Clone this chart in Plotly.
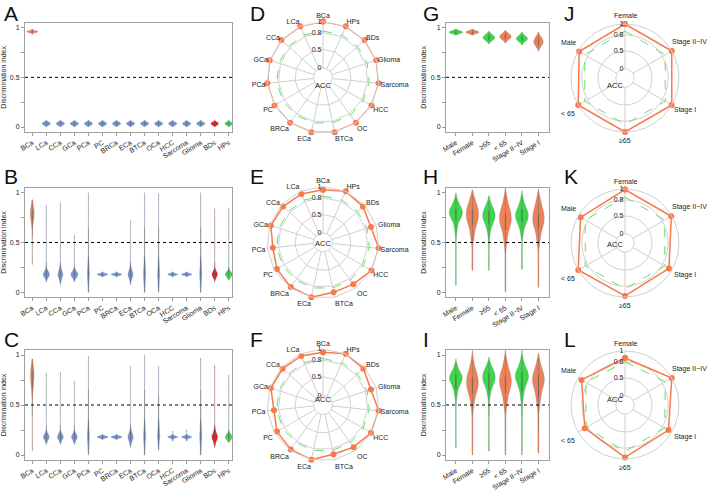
import math
import numpy as np
import plotly.graph_objects as go

# ======================= DATA =======================
CANCERS = ['BCa', 'LCa', 'CCa', 'GCa', 'PCa', 'PC', 'BRCa', 'ECa', 'BTCa',
           'OCa', 'HCC', 'Sarcoma', 'Glioma', 'BDs', 'HPs']
RADAR_CANCERS = ['BCa', 'HPs', 'BDs', 'Glioma', 'Sarcoma', 'HCC', 'OC', 'BTCa',
                 'ECa', 'BRCa', 'PC', 'PCa', 'GCa', 'CCa', 'LCa']
GROUPS = ['Male', 'Female', '≥65', '< 65', 'Stage II−IV', 'Stage I']
RADAR_GROUPS = ['Female', 'Stage II−IV', 'Stage I', '≥65', '< 65', 'Male']

Y_TICKS = [0, 0.25, 0.5, 0.75, 1]
Y_TICKTEXT = ['0', '', '0.5', '', '1']
R_TICKTEXT = ['0', '0.5', '0.8', '1']
CUTOFF = 0.5

# sparse tail grid (values observed along the thin violin tails)
TAIL_GRID = [0.00, 0.05, 0.10, 0.15, 0.20, 0.25, 0.30, 0.35, 0.40, 0.45, 0.50,
             0.55, 0.60, 0.65, 0.70, 0.75, 0.80, 0.85, 0.90, 0.95, 1.00]

# ---- violin cores: (values, counts) ----
A_top = ([0.945, 0.955, 0.96, 0.965, 0.975], [1, 3, 4, 3, 1])
A_bottom = ([0.015, 0.025, 0.035, 0.045, 0.055], [2, 4, 5, 4, 2])
diamond = ([0.12, 0.14, 0.16, 0.18, 0.20, 0.22, 0.24], [2, 5, 12, 18, 12, 5, 2])
diamond_narrow = ([0.14, 0.16, 0.18, 0.20, 0.22], [3, 10, 16, 10, 3])
diamond_long = ([0.10, 0.13, 0.16, 0.18, 0.20, 0.23, 0.26], [3, 6, 11, 14, 11, 6, 3])
lens = ([0.165, 0.175, 0.18, 0.185, 0.195], [2, 6, 8, 6, 2])
spread = ([0.03, 0.07, 0.11, 0.15, 0.18, 0.21, 0.25, 0.29, 0.33], [2, 3, 4, 5, 5, 5, 4, 3, 2])
spread_high = ([0.08, 0.12, 0.16, 0.19, 0.22, 0.26, 0.30, 0.34], [2, 3, 5, 6, 5, 4, 3, 2])
bca_B = ([0.65, 0.70, 0.74, 0.77, 0.80, 0.83, 0.86, 0.89], [2, 4, 6, 8, 8, 6, 4, 2])
bca_C = ([0.62, 0.67, 0.72, 0.76, 0.80, 0.84, 0.88, 0.92], [2, 4, 6, 7, 8, 7, 5, 2])

A_core = [A_top] + [A_bottom] * 14
A_tail_lo = [None] * 15
A_tail_hi = [None] * 15

B_core = [bca_B, diamond, diamond_long, diamond, spread, lens, lens, diamond_long,
          spread, spread, lens, lens, spread, diamond, diamond_narrow]
B_tail_lo = [0.28, 0.15, 0.15, 0.15, 0.00, None, None, 0.15, 0.00, 0.01, None, None, 0.00, 0.15, 0.15]
B_tail_hi = [0.92, 0.87, 0.90, 0.57, 1.00, None, None, 0.72, 1.00, 0.99, None, None, 1.00, 0.84, 0.85]

C_core = [bca_C, diamond, diamond, diamond, spread, lens, lens, diamond_long,
          spread, spread_high, lens, lens, spread, diamond_long, diamond_narrow]
C_tail_lo = [0.04, 0.15, 0.15, 0.15, 0.01, None, None, 0.15, 0.00, 0.05, 0.14, 0.14, 0.00, 0.15, 0.15]
C_tail_hi = [0.96, 0.82, 0.83, 0.74, 0.99, None, None, 0.89, 1.00, 0.89, 0.24, 0.25, 0.97, 0.90, 0.80]

G_core = [([0.935, 0.945, 0.955, 0.965, 0.975], [2, 5, 7, 5, 2]),
          ([0.935, 0.945, 0.955, 0.965, 0.975], [2, 5, 7, 5, 2]),
          ([0.86, 0.88, 0.90, 0.92, 0.94], [2, 5, 7, 5, 2]),
          ([0.87, 0.89, 0.91, 0.93, 0.95], [2, 5, 7, 5, 2]),
          ([0.85, 0.87, 0.89, 0.91, 0.93], [2, 5, 7, 5, 2]),
          ([0.80, 0.83, 0.86, 0.89, 0.92], [2, 5, 7, 5, 2])]
G_tail_lo = [None] * 6
G_tail_hi = [None] * 6

H_core = [([0.62, 0.68, 0.73, 0.77, 0.80, 0.83, 0.87, 0.91, 0.95], [2, 4, 8, 12, 14, 12, 8, 4, 1]),
          ([0.56, 0.62, 0.68, 0.73, 0.78, 0.83, 0.88, 0.93, 0.98], [3, 5, 8, 11, 12, 11, 8, 5, 2]),
          ([0.60, 0.66, 0.71, 0.75, 0.79, 0.83, 0.87, 0.92], [3, 6, 10, 13, 13, 10, 6, 2]),
          ([0.52, 0.58, 0.64, 0.69, 0.74, 0.79, 0.84, 0.90, 0.96, 1.00], [3, 5, 8, 11, 12, 11, 9, 6, 3, 1]),
          ([0.60, 0.66, 0.71, 0.75, 0.79, 0.83, 0.88, 0.93, 0.97], [3, 6, 10, 13, 13, 10, 6, 3, 1]),
          ([0.52, 0.58, 0.64, 0.69, 0.74, 0.79, 0.84, 0.90, 0.95, 0.99], [3, 5, 8, 11, 12, 11, 9, 6, 3, 1])]
H_tail_lo = [0.07, 0.22, 0.22, 0.00, 0.23, 0.05]
H_tail_hi = [0.62, 0.56, 0.60, 0.52, 0.60, 0.52]

I_core = [([0.60, 0.65, 0.70, 0.74, 0.77, 0.80, 0.84, 0.88, 0.92], [3, 5, 9, 12, 13, 12, 8, 4, 1]),
          ([0.50, 0.56, 0.62, 0.67, 0.72, 0.77, 0.82, 0.88, 0.94, 1.00], [3, 5, 8, 11, 12, 11, 9, 6, 3, 1]),
          ([0.60, 0.65, 0.70, 0.74, 0.78, 0.82, 0.86, 0.90, 0.94], [3, 5, 9, 12, 13, 12, 8, 4, 1]),
          ([0.50, 0.56, 0.62, 0.68, 0.73, 0.78, 0.83, 0.89, 0.95, 1.00], [3, 5, 8, 11, 12, 11, 9, 6, 3, 1]),
          ([0.58, 0.64, 0.70, 0.75, 0.79, 0.83, 0.88, 0.94, 1.00], [3, 5, 9, 12, 13, 12, 8, 4, 1]),
          ([0.52, 0.58, 0.64, 0.70, 0.75, 0.80, 0.85, 0.91, 0.97], [3, 5, 8, 11, 12, 11, 8, 5, 2])]
I_tail_lo = [0.07, 0.00, 0.04, 0.00, 0.00, 0.02]
I_tail_hi = [0.60, 0.50, 0.60, 0.50, 0.58, 0.52]

# ---- radar (ACC) values ----
D_acc = [1.00, 1.00, 1.00, 1.00, 1.00, 1.00, 1.00, 1.00, 1.00, 1.00, 1.00, 1.00, 1.00, 1.00, 1.00]
E_acc = [0.94, 1.00, 0.96, 0.90, 1.00, 1.00, 0.92, 0.91, 1.00, 0.98, 0.95, 0.90, 0.98, 0.96, 0.95]
F_acc = [0.94, 1.00, 0.97, 0.90, 1.00, 0.99, 0.93, 0.90, 1.00, 0.98, 0.95, 0.88, 0.98, 0.97, 0.96]
D_ref = [0.83] * 15
E_ref = [0.83] * 15
F_ref = [0.83] * 15
J_acc = [1.00, 1.00, 1.00, 1.00, 1.00, 0.98]
K_acc = [0.99, 0.99, 0.94, 0.98, 1.00, 0.95]
L_acc = [0.87, 1.00, 0.93, 0.97, 0.86, 0.93]
J_ref = [0.87, 0.86, 0.86, 0.86, 0.86, 0.86]
K_ref = [0.85, 0.85, 0.85, 0.85, 0.85, 0.85]
L_ref = [0.80, 0.86, 0.85, 0.86, 0.83, 0.84]

# ======================= STYLE =======================
W, H = 709, 490
FONT = 'Liberation Sans, Arial, sans-serif'
ORANGE, BLUE, RED, GREEN = '#EE8158', '#7295DA', '#F01C1C', '#3ED64C'
R_ORANGE, R_GREEN, GRID = '#F77A4A', '#66E066', '#D0D0D0'
CANCER_COLORS = [ORANGE] + [BLUE] * 12 + [RED, GREEN]
GROUP_COLORS = [GREEN, ORANGE, GREEN, ORANGE, GREEN, ORANGE]
SMALL = 7
HOLE = 0.17

A_width = [0.80] + [0.60] * 12 + [0.55, 0.55]
B_width = [0.28, 0.45, 0.36, 0.50, 0.14, 0.76, 0.76, 0.36, 0.16, 0.14, 0.70, 0.74, 0.14, 0.40, 0.50]
C_width = [0.26, 0.42, 0.42, 0.42, 0.14, 0.76, 0.76, 0.38, 0.14, 0.16, 0.72, 0.74, 0.14, 0.42, 0.50]
G_width = [0.82, 0.78, 0.72, 0.70, 0.68, 0.58]
H_width = [0.80, 0.75, 0.75, 0.72, 0.78, 0.70]
I_width = [0.78, 0.72, 0.76, 0.72, 0.80, 0.72]

# label placement around the hexagonal radars: (dx, dy, xanchor) in px from vertex
HEX_LABEL_POS = [(0, -8, 'center'), (-1, -9, 'left'), (1, 5, 'left'),
                 (0, 8, 'center'), (-2, 8, 'right'), (-1, -8, 'right')]


def xdom(p0, p1):
    return [p0 / W, p1 / W]


def ydom(p0, p1):
    return [1 - p1 / H, 1 - p0 / H]


def sfx(n):
    return '' if n == 1 else str(n)


fig = go.Figure()


def add_violins(n, cats, cores, los, his, colors, widths):
    for i, c in enumerate(cats):
        vals, cnts = cores[i]
        bw = max(0.8 * float(np.max(np.diff(vals))), 0.006)
        s = list(np.repeat(vals, cnts))
        lo, hi = los[i], his[i]
        if lo is None:
            span = [min(vals) - 1.5 * bw, max(vals) + 1.5 * bw]
        else:
            s += [lo] + [t for t in TAIL_GRID if lo < t < hi] + [hi]
            span = [min(min(vals) - bw, lo), max(max(vals) + bw, hi)]
        fig.add_trace(go.Violin(
            x=[c] * len(s), y=s, xaxis='x' + sfx(n), yaxis='y' + sfx(n),
            width=widths[i], bandwidth=bw, spanmode='manual', span=span,
            scalemode='width', fillcolor=colors[i],
            line=dict(color='rgba(120,120,120,0.5)', width=0.5),
            points=False, box=dict(visible=True, width=0.05, fillcolor='#666',
                                   line=dict(color='#666', width=0.4)),
            meanline=dict(visible=False), showlegend=False, hoverinfo='skip'))


def violin_axes(n, px, py, cats, xrange):
    s = sfx(n)
    fig.layout['xaxis' + s] = dict(
        domain=xdom(*px), range=xrange, type='category', categoryorder='array',
        categoryarray=cats, tickangle=-32, tickfont=dict(size=SMALL, color='#222'),
        ticks='outside', ticklen=3, tickcolor='#999', showline=True, mirror=True,
        linecolor='#A0A0A0', linewidth=1, showgrid=False, zeroline=False,
        anchor='y' + s, fixedrange=True, automargin=False)
    fig.layout['yaxis' + s] = dict(
        domain=ydom(*py), range=[-0.05, 1.05], tickvals=Y_TICKS, ticktext=Y_TICKTEXT,
        ticks='outside', ticklen=3, tickcolor='#999', tickfont=dict(size=SMALL, color='#222'),
        showline=True, mirror=True, linecolor='#A0A0A0', linewidth=1,
        showgrid=False, zeroline=False, anchor='x' + s, fixedrange=True, automargin=False,
        title=dict(text='Discrimination index', font=dict(size=SMALL, color='#222'), standoff=3))
    fig.add_shape(type='line', xref='x' + s + ' domain', yref='y' + s, x0=0, x1=1,
                  y0=CUTOFF, y1=CUTOFF, line=dict(color='black', width=1, dash='dot'))


# violin panels (pixel boxes)
rows_y = [(22.7, 132.0), (187.7, 297.3), (350.0, 460.0)]
violin_axes(1, (25, 232), rows_y[0], CANCERS, [-0.52, 14.23])
violin_axes(2, (25, 232), rows_y[1], CANCERS, [-0.52, 14.23])
violin_axes(3, (25, 232), rows_y[2], CANCERS, [-0.52, 14.23])
violin_axes(4, (446, 549), rows_y[0], GROUPS, [-0.6, 5.64])
violin_axes(5, (446, 549), rows_y[1], GROUPS, [-0.6, 5.64])
violin_axes(6, (446, 549), rows_y[2], GROUPS, [-0.6, 5.64])

add_violins(1, CANCERS, A_core, A_tail_lo, A_tail_hi, CANCER_COLORS, A_width)
add_violins(2, CANCERS, B_core, B_tail_lo, B_tail_hi, CANCER_COLORS, B_width)
add_violins(3, CANCERS, C_core, C_tail_lo, C_tail_hi, CANCER_COLORS, C_width)
add_violins(4, GROUPS, G_core, G_tail_lo, G_tail_hi, GROUP_COLORS, G_width)
add_violins(5, GROUPS, H_core, H_tail_lo, H_tail_hi, GROUP_COLORS, H_width)
add_violins(6, GROUPS, I_core, I_tail_lo, I_tail_hi, GROUP_COLORS, I_width)


def radar(n, cx, cy, R, cats, acc, ref, linear):
    key = 'polar' + sfx(n)
    fig.layout[key] = dict(
        domain=dict(x=xdom(cx - R, cx + R), y=ydom(cy - R, cy + R)),
        hole=HOLE, bgcolor='rgba(0,0,0,0)',
        gridshape='linear' if linear else 'circular',
        radialaxis=dict(range=[HOLE, 1], tickvals=[HOLE, 0.5, 0.8, 1], ticktext=R_TICKTEXT,
                        angle=90, tickangle=90, side='counterclockwise', showline=False,
                        gridcolor=GRID, gridwidth=1, ticks='',
                        tickfont=dict(size=SMALL, color='#222')),
        angularaxis=dict(type='category', categoryarray=cats, direction='clockwise',
                         rotation=90, gridcolor=GRID, linecolor=GRID, showline=True,
                         ticks='', showticklabels=linear,
                         tickfont=dict(size=SMALL, color='#222')))
    fig.add_trace(go.Scatterpolar(r=ref + ref[:1], theta=cats + cats[:1], subplot=key,
                                  mode='lines', line=dict(color=R_GREEN, width=1, dash='dash'),
                                  showlegend=False, hoverinfo='skip'))
    fig.add_trace(go.Scatterpolar(r=acc + acc[:1], theta=cats + cats[:1], subplot=key,
                                  mode='lines+markers', line=dict(color=R_ORANGE, width=1.5),
                                  marker=dict(color=R_ORANGE, size=6),
                                  showlegend=False, hoverinfo='skip'))
    fig.add_annotation(x=cx / W, y=1 - (cy + 1) / H, xref='paper', yref='paper', text='ACC',
                       showarrow=False, font=dict(size=7.5, color='#222'))
    if not linear:
        for k, c in enumerate(cats):
            ang = math.radians(360 * k / len(cats))
            vx, vy = cx + R * math.sin(ang), cy - R * math.cos(ang)
            dx, dy, xa = HEX_LABEL_POS[k]
            fig.add_annotation(x=(vx + dx) / W, y=1 - (vy + dy) / H, xref='paper',
                               yref='paper', text=c, showarrow=False, xanchor=xa,
                               yanchor='middle', borderpad=0,
                               font=dict(size=SMALL, color='#222'))


radar(1, 323, 77.5, 56, RADAR_CANCERS, D_acc, D_ref, True)
radar(2, 323, 242.5, 56, RADAR_CANCERS, E_acc, E_ref, True)
radar(3, 323, 405, 56, RADAR_CANCERS, F_acc, F_ref, True)
radar(4, 625, 78, 54, RADAR_GROUPS, J_acc, J_ref, False)
radar(5, 625, 243, 54, RADAR_GROUPS, K_acc, K_ref, False)
radar(6, 625, 405, 54, RADAR_GROUPS, L_acc, L_ref, False)

# panel letters
letters = [('A', 2, 0), ('D', 248, 0), ('G', 421, 0), ('J', 562, 0),
           ('B', 2, 163), ('E', 248, 163), ('H', 421, 163), ('K', 562, 163),
           ('C', 2, 326), ('F', 248, 326), ('I', 421, 326), ('L', 562, 326)]
for t, x, y in letters:
    fig.add_annotation(x=x / W, y=1 - y / H, xref='paper', yref='paper', text=t,
                       showarrow=False, xanchor='left', yanchor='top',
                       font=dict(size=21, color='#111'))

fig.update_layout(template='none', width=W, height=H, margin=dict(l=0, r=0, t=0, b=0),
                  paper_bgcolor='white', plot_bgcolor='white', showlegend=False,
                  violinmode='overlay', hovermode=False,
                  font=dict(family=FONT, color='#222'))
fig.write_html('out.html', config={'displayModeBar': False, 'staticPlot': True},
               post_script="document.body.style.margin='0';document.body.style.padding='0';")
